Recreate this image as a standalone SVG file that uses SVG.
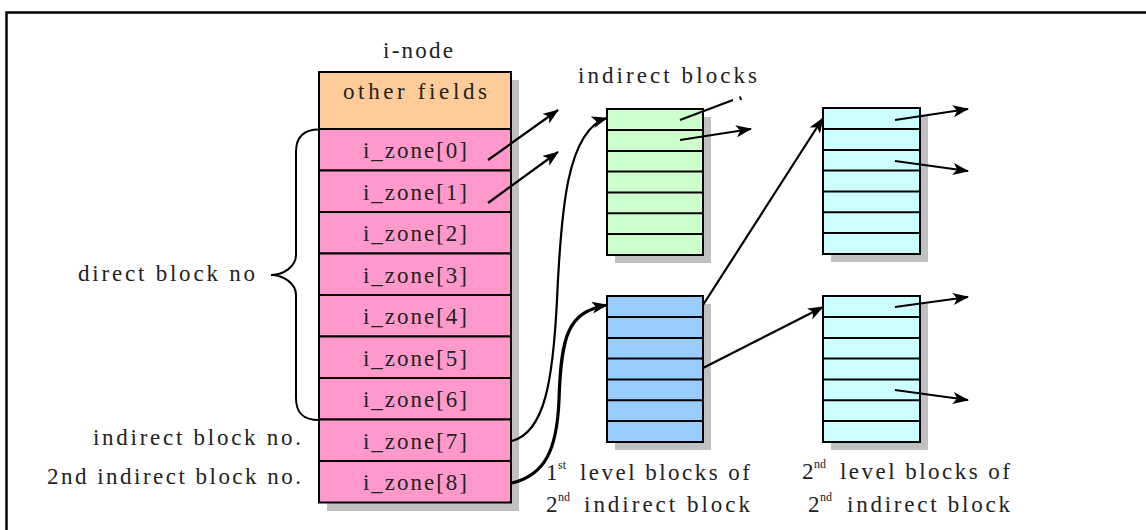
<svg xmlns="http://www.w3.org/2000/svg" width="1146" height="530" viewBox="0 0 1146 530">
<style>
text{font-family:"Liberation Serif","DejaVu Serif",serif;font-size:23px;fill:#222}
.sup{font-size:12px}
.box{stroke:#000;stroke-width:2}
.sh{fill:#c0c0c0}
.ln{fill:none;stroke:#000;stroke-width:2}
.arr{fill:none;stroke:#000;stroke-width:2.2;marker-end:url(#ah)}
</style>
<defs>
<marker id="ah" markerUnits="userSpaceOnUse" markerWidth="18" markerHeight="14" refX="15" refY="6" orient="auto">
<path d="M0,0 L16,6 L0,12 L4,6 z" fill="#000"/>
</marker>
</defs>
<rect width="1146" height="530" fill="#fff"/>
<path d="M6.5,530 V12.5 H1146" fill="none" stroke="#000" stroke-width="2.5"/>

<g id="inode">
<text x="383" y="58" textLength="70" lengthAdjust="spacing">i-node</text>
<rect class="sh" x="327" y="80" width="192" height="431"/>
<rect class="box" x="319" y="72" width="192" height="57" fill="#ffcc99"/>
<text x="343" y="99" textLength="144" lengthAdjust="spacing">other fields</text>
<g fill="#ff99cc">
<rect class="box" x="319" y="129" width="192" height="41.5"/>
<rect class="box" x="319" y="170.5" width="192" height="41.5"/>
<rect class="box" x="319" y="212" width="192" height="41.5"/>
<rect class="box" x="319" y="253.5" width="192" height="41.5"/>
<rect class="box" x="319" y="295" width="192" height="41.5"/>
<rect class="box" x="319" y="336.5" width="192" height="41.5"/>
<rect class="box" x="319" y="378" width="192" height="41.5"/>
<rect class="box" x="319" y="419.5" width="192" height="41.5"/>
<rect class="box" x="319" y="461" width="192" height="41.5"/>
</g>
<text x="363" y="158" textLength="104" lengthAdjust="spacing">i_zone[0]</text>
<text x="363" y="199.5" textLength="104" lengthAdjust="spacing">i_zone[1]</text>
<text x="363" y="241" textLength="104" lengthAdjust="spacing">i_zone[2]</text>
<text x="363" y="282.5" textLength="104" lengthAdjust="spacing">i_zone[3]</text>
<text x="363" y="324" textLength="104" lengthAdjust="spacing">i_zone[4]</text>
<text x="363" y="365.5" textLength="104" lengthAdjust="spacing">i_zone[5]</text>
<text x="363" y="407" textLength="104" lengthAdjust="spacing">i_zone[6]</text>
<text x="363" y="448.5" textLength="104" lengthAdjust="spacing">i_zone[7]</text>
<text x="363" y="490" textLength="104" lengthAdjust="spacing">i_zone[8]</text>
</g>

<g id="labels-left">
<path class="ln" d="M319,129.5 C303,129.5 296,137 296,152 V255 C296,266 284,275 271,275 C284,275 296,284 296,295 V398 C296,413 303,420 319,420"/>
<text x="78" y="281" textLength="177" lengthAdjust="spacing">direct block no</text>
<text x="93" y="445" textLength="208" lengthAdjust="spacing">indirect block no.</text>
<text x="47" y="484" textLength="254" lengthAdjust="spacing">2nd indirect block no.</text>
</g>

<g id="indirect-blocks">
<text x="578" y="83" textLength="179" lengthAdjust="spacing">indirect blocks</text>
<rect class="sh" x="615" y="117" width="96" height="146"/>
<rect class="box" x="607" y="109" width="96" height="146" fill="#ccffcc"/>
<path class="ln" d="M607,130 H703 M607,151 H703 M607,171.6 H703 M607,192.4 H703 M607,213.3 H703 M607,234.1 H703"/>
</g>

<g id="first-level">
<rect class="sh" x="615" y="304" width="96" height="146"/>
<rect class="box" x="607" y="296" width="96" height="146" fill="#99ccff"/>
<path class="ln" d="M607,317 H703 M607,338 H703 M607,358.6 H703 M607,379.4 H703 M607,400.3 H703 M607,421.1 H703"/>
<text x="546" y="480">1</text><text class="sup" x="558" y="469">st</text>
<text x="580" y="480" textLength="170" lengthAdjust="spacing">level blocks of</text>
<text x="546" y="512">2</text><text class="sup" x="558" y="501">nd</text>
<text x="584" y="512" textLength="166" lengthAdjust="spacing">indirect block</text>
</g>

<g id="second-level-top">
<rect class="sh" x="831" y="116" width="97" height="146"/>
<rect class="box" x="823" y="108" width="97" height="146" fill="#ccffff"/>
<path class="ln" d="M823,129 H920 M823,150 H920 M823,170.6 H920 M823,191.4 H920 M823,212.3 H920 M823,233.1 H920"/>
</g>

<g id="second-level-bottom">
<rect class="sh" x="831" y="304" width="97" height="146"/>
<rect class="box" x="823" y="296" width="97" height="146" fill="#ccffff"/>
<path class="ln" d="M823,317 H920 M823,338 H920 M823,358.6 H920 M823,379.4 H920 M823,400.3 H920 M823,421.1 H920"/>
<text x="802" y="479">2</text><text class="sup" x="814" y="468">nd</text>
<text x="840" y="479" textLength="170" lengthAdjust="spacing">level blocks of</text>
<text x="808" y="512">2</text><text class="sup" x="820" y="501">nd</text>
<text x="847" y="512" textLength="163" lengthAdjust="spacing">indirect block</text>
</g>

<g id="connectors">
<path class="arr" d="M488,160 L558,110"/>
<path class="arr" d="M488,203 L558,152"/>
<path class="arr" d="M512,441 C545,432 553,380 557,300 C561,210 567,130 607,118"/>
<path class="arr" style="stroke-width:3.2" d="M512,483 C545,475 557,450 559,400 C561,335 568,312 607,305"/>
<path class="ln" d="M680,120 L733,100 M740,96.5 L741,100"/>
<path class="arr" d="M680,140 L751,129"/>
<path class="arr" d="M703,305 L823,118"/>
<path class="arr" d="M703,368 L823,307"/>
<path class="arr" d="M895,120 L968,109"/>
<path class="arr" d="M895,161 L968,171"/>
<path class="arr" d="M895,307 L968,297"/>
<path class="arr" d="M895,390 L968,400"/>
</g>
</svg>
